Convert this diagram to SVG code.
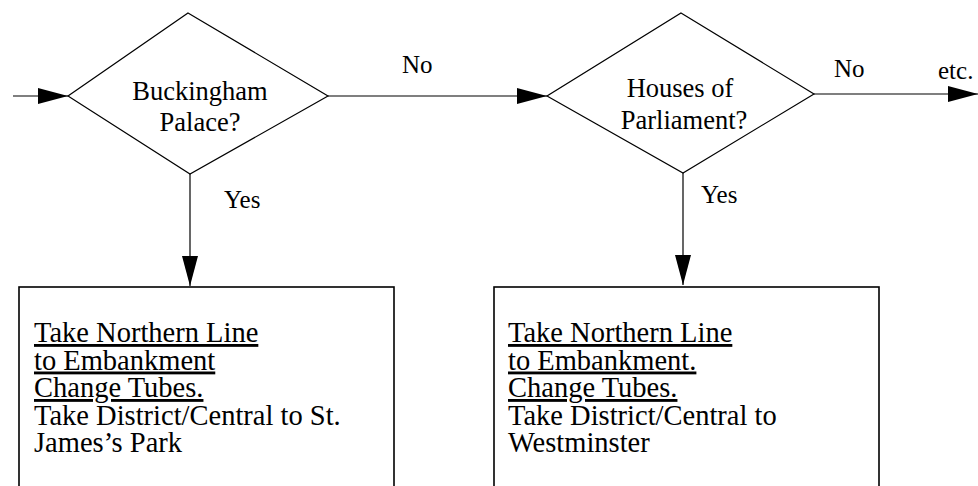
<svg xmlns="http://www.w3.org/2000/svg" width="978" height="486" viewBox="0 0 978 486">
<style>
  .shape { fill: #fff; stroke: #000; stroke-width: 1.2; }
  .box { fill: #fff; stroke: #000; stroke-width: 1.6; }
  .edge { stroke: #000; stroke-width: 1.2; fill: none; marker-end: url(#arrow); }
  text { font-family: "Liberation Serif", "Times New Roman", serif; fill: #000; }
  .dt { font-size: 26.5px; text-anchor: middle; }
  .lbl { font-size: 25px; }
  .bt { font-size: 28.5px; }
  .u { text-decoration: underline; }
</style>
<defs>
  <marker id="arrow" markerUnits="userSpaceOnUse" markerWidth="31" markerHeight="18" refX="30" refY="8" orient="auto">
    <path d="M0,0 L30,8 L0,16 Z" fill="#000"/>
  </marker>
</defs>
<g id="connectors">
  <line class="edge" x1="13" y1="96" x2="68" y2="96"/>
  <line class="edge" x1="328" y1="96" x2="547" y2="96"/>
  <line class="edge" x1="814" y1="94" x2="978" y2="94"/>
  <line class="edge" x1="190" y1="174" x2="190" y2="286"/>
  <line class="edge" x1="683" y1="173" x2="683" y2="285"/>
  <text class="lbl" x="402" y="73">No</text>
  <text class="lbl" x="834" y="77">No</text>
  <text class="lbl" x="938" y="79">etc.</text>
  <text class="lbl" x="224" y="208">Yes</text>
  <text class="lbl" x="701" y="203">Yes</text>
</g>
<g id="decision1">
  <polygon class="shape" points="188,13 328,96 190,174 68,96"/>
  <text class="dt" x="200" y="100">Buckingham</text>
  <text class="dt" x="200" y="131">Palace?</text>
</g>
<g id="decision2">
  <polygon class="shape" points="681,13 814,94 683,173 547,96"/>
  <text class="dt" x="680" y="97">Houses of</text>
  <text class="dt" x="684" y="129">Parliament?</text>
</g>
<g id="action1">
  <rect class="box" x="19" y="287" width="375" height="220"/>
  <text class="bt u" x="34" y="342">Take Northern Line</text>
  <text class="bt u" x="34" y="369.5">to Embankment</text>
  <text class="bt u" x="34" y="397">Change Tubes.</text>
  <text class="bt" x="34" y="424.5">Take District/Central to St.</text>
  <text class="bt" x="34" y="452">James’s Park</text>
</g>
<g id="action2">
  <rect class="box" x="494" y="287" width="385" height="220"/>
  <text class="bt u" x="508" y="342">Take Northern Line</text>
  <text class="bt u" x="508" y="369.5">to Embankment.</text>
  <text class="bt u" x="508" y="397">Change Tubes.</text>
  <text class="bt" x="508" y="424.5">Take District/Central to</text>
  <text class="bt" x="508" y="452">Westminster</text>
</g>
</svg>
